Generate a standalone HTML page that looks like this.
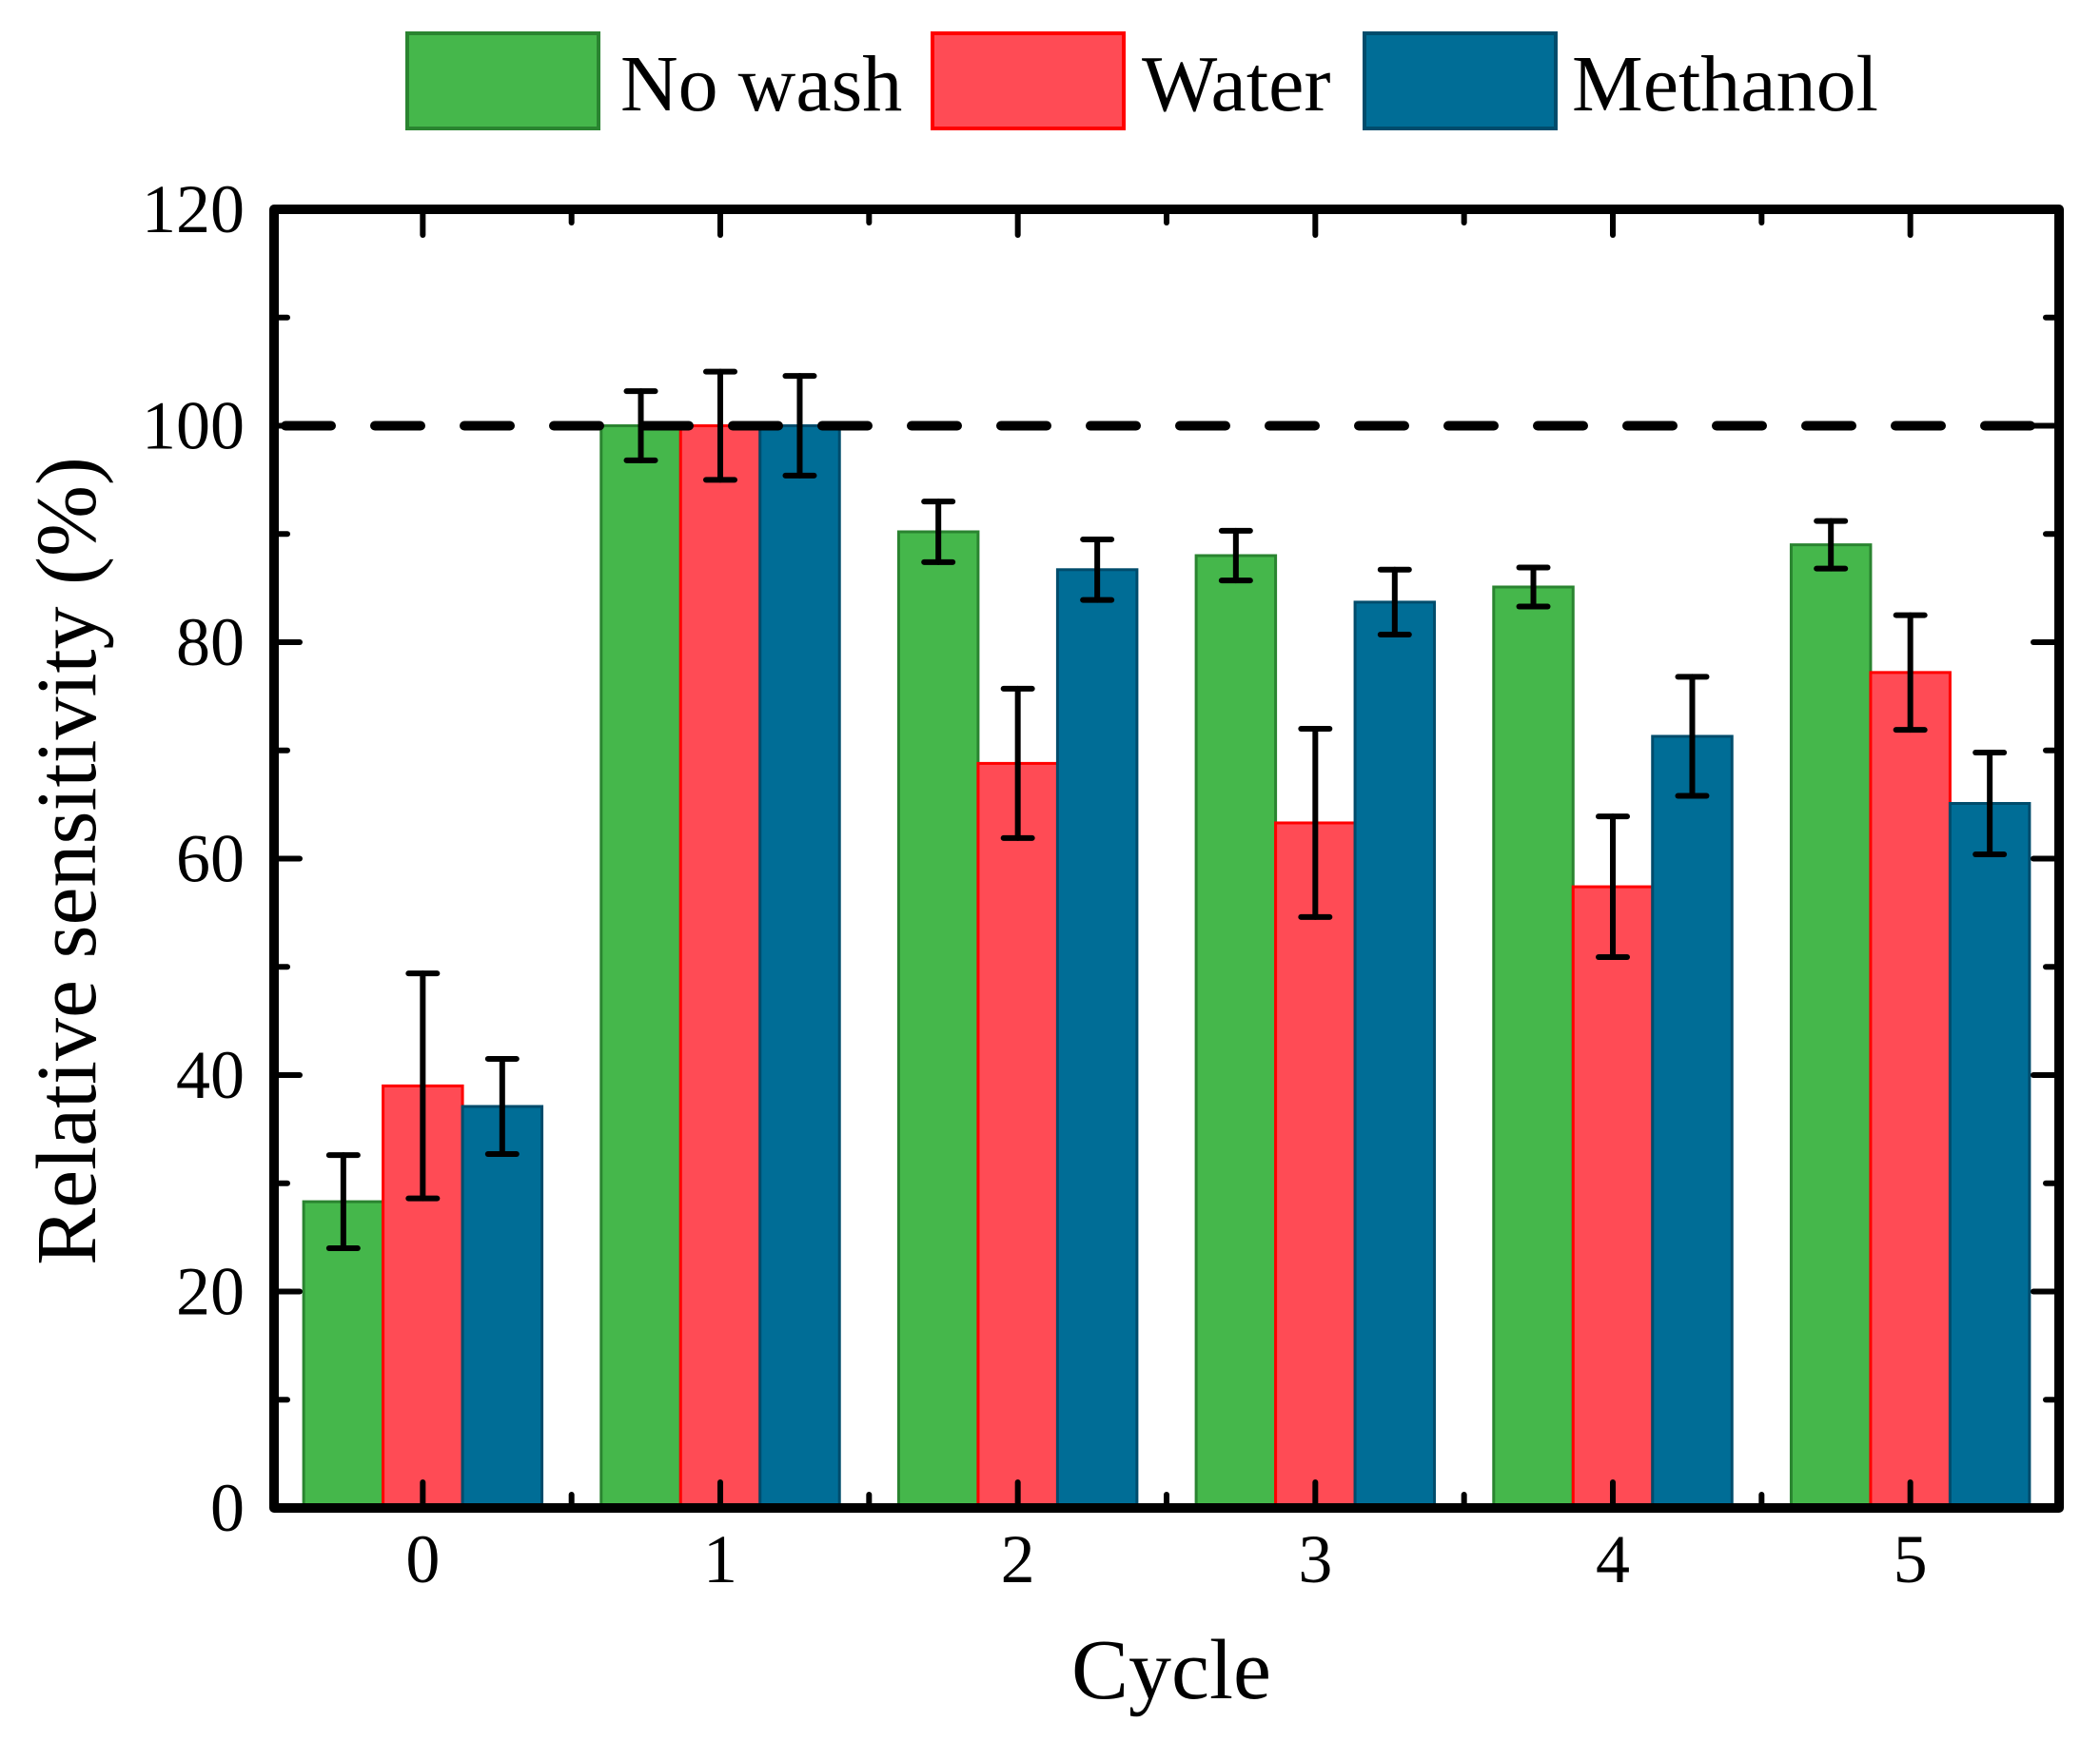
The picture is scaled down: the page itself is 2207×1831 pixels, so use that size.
<!DOCTYPE html>
<html><head><meta charset="utf-8"><style>
html,body{margin:0;padding:0;background:#fff;}
svg{display:block;font-family:"Liberation Serif",serif;}
</style></head><body>
<svg id="chart" width="2207" height="1831" viewBox="0 0 2207 1831" xmlns="http://www.w3.org/2000/svg">
<g id="legend">
<g><rect x="428" y="35" width="201" height="100" fill="#45b74b" stroke="#2a8430" stroke-width="4"/><text x="652" y="116" font-size="84">No wash</text></g>
<g><rect x="980" y="35" width="201" height="100" fill="#ff4b55" stroke="#ff0000" stroke-width="4"/><text x="1200" y="116" font-size="84">Water</text></g>
<g><rect x="1434" y="35" width="201" height="100" fill="#006d96" stroke="#004c6c" stroke-width="4"/><text x="1652" y="116" font-size="84">Methanol</text></g>
</g>
<g id="bars"></g>
<g id="errs"></g>
<line id="refline" x1="300" x2="2160" stroke="#000" stroke-width="10" stroke-dasharray="48 46" stroke-linecap="round"/>
<g id="ticks"></g>
<rect x="288" y="220" width="1876" height="1365" fill="none" stroke="#000" stroke-width="10" stroke-linejoin="round"/>
<g id="labels"></g>
<text x="1231" y="1785" font-size="90" text-anchor="middle">Cycle</text>
<text transform="translate(100,905) rotate(-90)" font-size="90" text-anchor="middle">Relative sensitivity (%)</text>
</svg>
<script>
const categories = ["0","1","2","3","4","5"];
const noWash = [28.3, 100, 90.2, 88.0, 85.1, 89.0];
const noWashErr = [4.3, 3.2, 2.8, 2.3, 1.8, 2.2];
const water = [39.0, 100, 68.8, 63.3, 57.4, 77.2];
const waterErr = [10.4, 5.0, 6.9, 8.7, 6.5, 5.3];
const methanol = [37.1, 100, 86.7, 83.7, 71.3, 65.1];
const methanolErr = [4.4, 4.6, 2.8, 3.0, 5.5, 4.7];
const yTicks = [0, 20, 40, 60, 80, 100, 120];
const refValue = 100;

const NS = "http://www.w3.org/2000/svg";
const L = 288, R = 2164, T = 220, B = 1585;
const yMin = 0, yMax = 120;
function y(v){ return B - (v - yMin) / (yMax - yMin) * (B - T); }
const slot = (R - L) / categories.length;
function x(i){ return L + slot * (i + 0.5); }
const bw = slot * 0.267;
function mk(tag, attrs, parent){ const e = document.createElementNS(NS, tag); for (const k in attrs) e.setAttribute(k, attrs[k]); parent.appendChild(e); return e; }

const bars = document.getElementById('bars'), errs = document.getElementById('errs');
const series = [
  {name:'no-wash', vals:noWash, err:noWashErr, fill:'#45b74b', stroke:'#2a8430', off:-1},
  {name:'water', vals:water, err:waterErr, fill:'#ff4b55', stroke:'#ff0000', off:0},
  {name:'methanol', vals:methanol, err:methanolErr, fill:'#006d96', stroke:'#004c6c', off:1}
];
series.forEach(s => {
  s.vals.forEach((v, i) => {
    const cx = x(i) + s.off * bw;
    const r = mk('rect', {x: cx - bw/2, y: y(v), width: bw, height: y(0) - y(v), fill: s.fill, stroke: s.stroke, 'stroke-width': 3}, bars);
    
    
    const g = mk('g', {stroke:'#000', 'stroke-width':6, 'stroke-linecap':'round'}, errs);
    
    
    const hi = y(v + s.err[i]), lo = y(v - s.err[i]);
    mk('line', {x1:cx, x2:cx, y1:hi, y2:lo}, g);
    mk('line', {x1:cx-15, x2:cx+15, y1:hi, y2:hi}, g);
    mk('line', {x1:cx-15, x2:cx+15, y1:lo, y2:lo}, g);
  });
});

const ref = document.getElementById('refline');
ref.setAttribute('y1', y(refValue)); ref.setAttribute('y2', y(refValue));

const ticks = document.getElementById('ticks'), labels = document.getElementById('labels');
const tickAttr = {stroke:'#000', 'stroke-width':6, 'stroke-linecap':'round'};
for (let k = 0; k < yTicks.length; k++) {
  const v = yTicks[k], yy = y(v);
  mk('line', Object.assign({x1:L, x2:L+27, y1:yy, y2:yy}, tickAttr), ticks);
  mk('line', Object.assign({x1:R, x2:R-27, y1:yy, y2:yy}, tickAttr), ticks);
  if (k < yTicks.length - 1) {
    const ym = y((v + yTicks[k+1]) / 2);
    mk('line', Object.assign({x1:L, x2:L+14, y1:ym, y2:ym}, tickAttr), ticks);
    mk('line', Object.assign({x1:R, x2:R-14, y1:ym, y2:ym}, tickAttr), ticks);
  }
  const t = mk('text', {x:257, y:yy + 24, 'font-size':72, 'text-anchor':'end'}, labels);
  t.textContent = v;
  
  
}
categories.forEach((c, i) => {
  const xx = x(i);
  mk('line', Object.assign({x1:xx, x2:xx, y1:B, y2:B-27}, tickAttr), ticks);
  mk('line', Object.assign({x1:xx, x2:xx, y1:T, y2:T+27}, tickAttr), ticks);
  if (i > 0) {
    const xm = L + slot * i;
    mk('line', Object.assign({x1:xm, x2:xm, y1:B, y2:B-14}, tickAttr), ticks);
    mk('line', Object.assign({x1:xm, x2:xm, y1:T, y2:T+14}, tickAttr), ticks);
  }
  const t = mk('text', {x:xx, y:1663, 'font-size':72, 'text-anchor':'middle'}, labels);
  t.textContent = c;
  
  
});
</script>
</body></html>
